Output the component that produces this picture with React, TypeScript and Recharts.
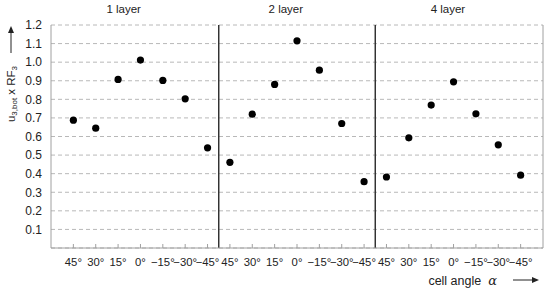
import React from 'react';
import { ScatterChart, Scatter, XAxis, YAxis, CartesianGrid, ReferenceLine } from 'recharts';

const angleLabels = ['45°', '30°', '15°', '0°', '\u221215°', '\u221230°', '\u221245°'];
const layerNames = ['1 layer', '2 layer', '4 layer'];
const layer1Values = [0.688, 0.645, 0.907, 1.011, 0.902, 0.803, 0.539];
const layer2Values = [0.461, 0.72, 0.88, 1.115, 0.957, 0.67, 0.357];
const layer4Values = [0.382, 0.593, 0.769, 0.894, 0.722, 0.555, 0.392];
const yTickValues = [0.1, 0.2, 0.3, 0.4, 0.5, 0.6, 0.7, 0.8, 0.9, 1.0, 1.1, 1.2];

const seriesValues = [layer1Values, layer2Values, layer4Values];
const points = seriesValues.flatMap((vals, li) =>
  vals.map((v, i) => ({ pos: li * angleLabels.length + i + 1, value: v }))
);
const xTicks = points.map((p) => p.pos);
const separators = [7.5, 14.5];
const titlePositions = [3.25, 10.5, 17.75];

const FONT = '"Liberation Sans", Arial, sans-serif';
const AXIS = '#a0a0a0';
const TEXT = '#222';

const BottomTick = (props: any) => {
  const { x, y, payload } = props;
  return (
    <g>
      <line x1={x} x2={x} y1={y} y2={y - 4} stroke={AXIS} />
      <text x={x} y={y + 18} textAnchor="middle" fontFamily={FONT} fontSize={11.3} fill={TEXT}>
        {angleLabels[(payload.value - 1) % angleLabels.length]}
      </text>
    </g>
  );
};

const TopTick = (props: any) => {
  const { x, y } = props;
  return <line x1={x} x2={x} y1={y} y2={y + 4} stroke={AXIS} />;
};

const YTitle = (props: any) => {
  const vb = props.viewBox || { x: 0, y: 25, width: 51, height: 223 };
  const cx = vb.x + 11;
  const cy = vb.y + 69;
  const ax = cx;
  return (
    <g>
      <text
        x={cx}
        y={cy}
        transform={`rotate(-90, ${cx}, ${cy})`}
        textAnchor="middle"
        dominantBaseline="central"
        fontFamily={FONT}
        fontSize={11.5}
        fill={TEXT}
      >
        <tspan>u</tspan>
        <tspan fontSize={8} dy={3}>3,bot</tspan>
        <tspan dy={-3}> x RF</tspan>
        <tspan fontSize={8} dy={3}>3</tspan>
      </text>
      <line x1={ax} x2={ax} y1={vb.y + 28} y2={vb.y + 7} stroke="#222" strokeWidth={1} />
      <polygon points={`${ax - 3},${vb.y + 8} ${ax + 3},${vb.y + 8} ${ax},${vb.y + 1}`} fill="#222" />
    </g>
  );
};

const XTitle = (props: any) => {
  const vb = props.viewBox || { x: 51, y: 248, width: 492, height: 30 };
  const right = vb.x + vb.width;
  const ty = vb.y + 32;
  return (
    <g>
      <text x={right - 46} y={ty + 5} textAnchor="end" fontFamily={FONT} fontSize={12.5} fill={TEXT}>
        <tspan>cell angle</tspan>
        <tspan dx={7} fontFamily="'DejaVu Serif', serif" fontStyle="italic" fontSize={13}>{'\u03b1'}</tspan>
      </text>
      <line x1={right - 30} x2={right - 10} y1={ty} y2={ty} stroke="#222" strokeWidth={1} />
      <polygon points={`${right - 11},${ty - 3} ${right - 11},${ty + 3} ${right - 4},${ty}`} fill="#222" />
    </g>
  );
};

const Dot = (props: any) => {
  const { cx, cy } = props;
  return <circle cx={cx} cy={cy} r={3.6} fill="#000" />;
};

export default function App() {
  return (
    <div style={{ position: 'absolute', left: 0, top: 0, width: 550, height: 297, background: '#fff' }}>
      <ScatterChart width={550} height={297} margin={{ top: 25, right: 7, bottom: 19, left: 0 }}>
        <CartesianGrid vertical={false} stroke="#b8b8b8" strokeDasharray="4 3" />
        <XAxis
          xAxisId="bottom"
          type="number"
          dataKey="pos"
          domain={[0, 22]}
          ticks={xTicks}
          interval={0}
          height={30}
          tickSize={0}
          tickMargin={0}
          tickLine={false}
          axisLine={{ stroke: AXIS }}
          tick={<BottomTick />}
          label={(p: any) => <XTitle {...p} />}
          allowDataOverflow
        />
        <XAxis
          xAxisId="top"
          orientation="top"
          type="number"
          dataKey="pos"
          domain={[0, 22]}
          ticks={xTicks}
          interval={0}
          height={0}
          tickSize={0}
          tickMargin={0}
          tickLine={false}
          axisLine={{ stroke: AXIS }}
          tick={<TopTick />}
          allowDataOverflow
        />
        <YAxis
          type="number"
          dataKey="value"
          domain={[0, 1.2]}
          ticks={yTickValues}
          interval={0}
          width={51}
          tickLine={false}
          tickSize={6}
          tickMargin={3}
          axisLine={{ stroke: AXIS }}
          tick={{ fontFamily: FONT, fontSize: 12, fill: TEXT }}
          tickFormatter={(v: number) => v.toFixed(1)}
          label={(p: any) => <YTitle {...p} />}
          allowDataOverflow
        />
        <ReferenceLine xAxisId="bottom" x={22} stroke={AXIS} />
        {separators.map((s) => (
          <ReferenceLine key={s} xAxisId="bottom" x={s} stroke="#333" strokeWidth={1.5} />
        ))}
        {titlePositions.map((t, i) => (
          <ReferenceLine
            key={`t${i}`}
            xAxisId="bottom"
            x={t}
            stroke="none"
            label={{ value: layerNames[i], position: 'top', offset: 12, fontFamily: FONT, fontSize: 11.5, fill: TEXT }}
          />
        ))}
        <Scatter xAxisId="bottom" data={points} shape={<Dot />} isAnimationActive={false} />
      </ScatterChart>
    </div>
  );
}
